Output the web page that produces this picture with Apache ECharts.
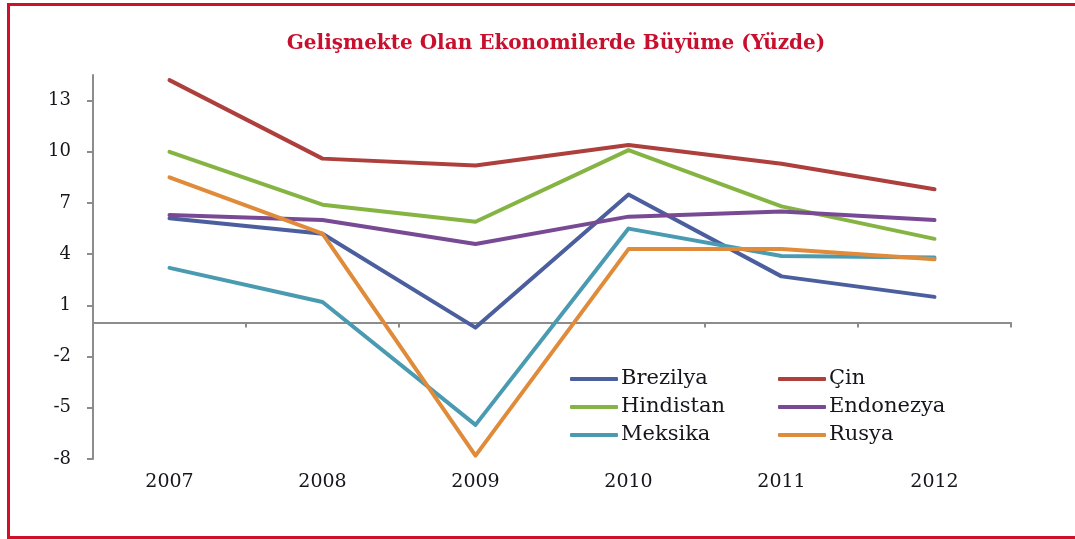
<!DOCTYPE html>
<html>
<head>
<meta charset="utf-8">
<script src="https://cdn.jsdelivr.net/npm/echarts@6/dist/echarts.min.js"></script>
<style>
    html, body {
        margin: 0;
        padding: 0;
        background: #fff;
        overflow: hidden;
    }
    .frame {
        position: absolute;
        left: 7px;
        top: 3px;
        width: 1100px;
        height: 530px;
        border-left: 3px solid #d0102a;
        border-top: 3px solid #d0102a;
        border-bottom: 3px solid #d0102a;
        border-right: none;
        z-index: 2;
        pointer-events: none;
    }
    #chart {
        position: absolute;
        left: 0;
        top: 0;
        width: 1075px;
        height: 539px;
    }
</style>
</head>
<body>
<div id="chart"></div>
<div class="frame"></div>
<script>
    // data (growth, %)
    var years = ["2007", "2008", "2009", "2010", "2011", "2012"];
    var yTicks = [-8, -5, -2, 1, 4, 7, 10, 13];

    var brezilya = [6.1, 5.2, -0.3, 7.5, 2.7, 1.5];
    var cin = [14.2, 9.6, 9.2, 10.4, 9.3, 7.8];
    var hindistan = [10.0, 6.9, 5.9, 10.1, 6.8, 4.9];
    var endonezya = [6.3, 6.0, 4.6, 6.2, 6.5, 6.0];
    var meksika = [3.2, 1.2, -6.0, 5.5, 3.9, 3.8];
    var rusya = [8.5, 5.2, -7.8, 4.3, 4.3, 3.7];

    var names = ["Brezilya", "Çin", "Hindistan", "Endonezya", "Meksika", "Rusya"];
    var values = [brezilya, cin, hindistan, endonezya, meksika, rusya];
    var colors = ["#4b5e9e", "#ad3f3d", "#86b443", "#784a94", "#4a9bb1", "#df8b39"];

    var font = "DejaVu Serif";
    var chartInstance = echarts.init(document.getElementById("chart"));

    var legendStyle = {
        orient: "vertical",
        top: 368,
        padding: 0,
        icon: "roundRect",
        itemWidth: 48,
        itemHeight: 4,
        itemGap: 6,
        textStyle: {
            fontFamily: font,
            fontSize: 21,
            lineHeight: 22,
            color: "#15151c",
            padding: [0, 0, 0, -2]
        }
    };

    var option = {
        animation: false,
        color: colors,
        title: {
            text: "Gelişmekte Olan Ekonomilerde Büyüme (Yüzde)",
            left: 551,
            top: 29,
            textAlign: "center",
            textStyle: {
                fontFamily: font,
                fontSize: 20,
                fontWeight: "bold",
                color: "#c8102e"
            }
        },
        legend: [
            Object.assign({left: 570, data: ["Brezilya", "Hindistan", "Meksika"]}, legendStyle),
            Object.assign({left: 778, data: ["Çin", "Endonezya", "Rusya"]}, legendStyle)
        ],
        grid: {
            left: 93,
            right: 64,
            top: 75,
            bottom: 80
        },
        xAxis: [{
            type: "category",
            data: years,
            position: "bottom",
            axisLine: {show: false, onZero: false},
            axisTick: {show: false},
            axisLabel: {
                margin: 14,
                fontFamily: font,
                fontSize: 19,
                color: "#15151c"
            }
        }, {
            // the zero line with its ticks
            type: "category",
            data: years,
            position: "bottom",
            axisLine: {
                onZero: true,
                lineStyle: {color: "#8c8c8c", width: 2}
            },
            axisTick: {
                show: true,
                length: 5,
                lineStyle: {color: "#8c8c8c", width: 2}
            },
            axisLabel: {show: false}
        }],
        yAxis: {
            type: "value",
            min: -8,
            max: 14.5,
            interval: 3,
            splitLine: {show: false},
            axisLine: {
                show: true,
                lineStyle: {color: "#8c8c8c", width: 2}
            },
            axisTick: {
                show: true,
                length: 6,
                customValues: yTicks,
                lineStyle: {color: "#8c8c8c", width: 2}
            },
            axisLabel: {
                margin: 22,
                customValues: yTicks,
                fontFamily: font,
                fontSize: 18,
                color: "#15151c"
            }
        },
        series: names.map(function (name, i) {
            return {
                name: name,
                type: "line",
                xAxisIndex: 0,
                data: values[i],
                showSymbol: false,
                symbol: "none",
                lineStyle: {width: 4, join: "round", cap: "round"}
            };
        })
    };

    chartInstance.setOption(option);
</script>
</body>
</html>
